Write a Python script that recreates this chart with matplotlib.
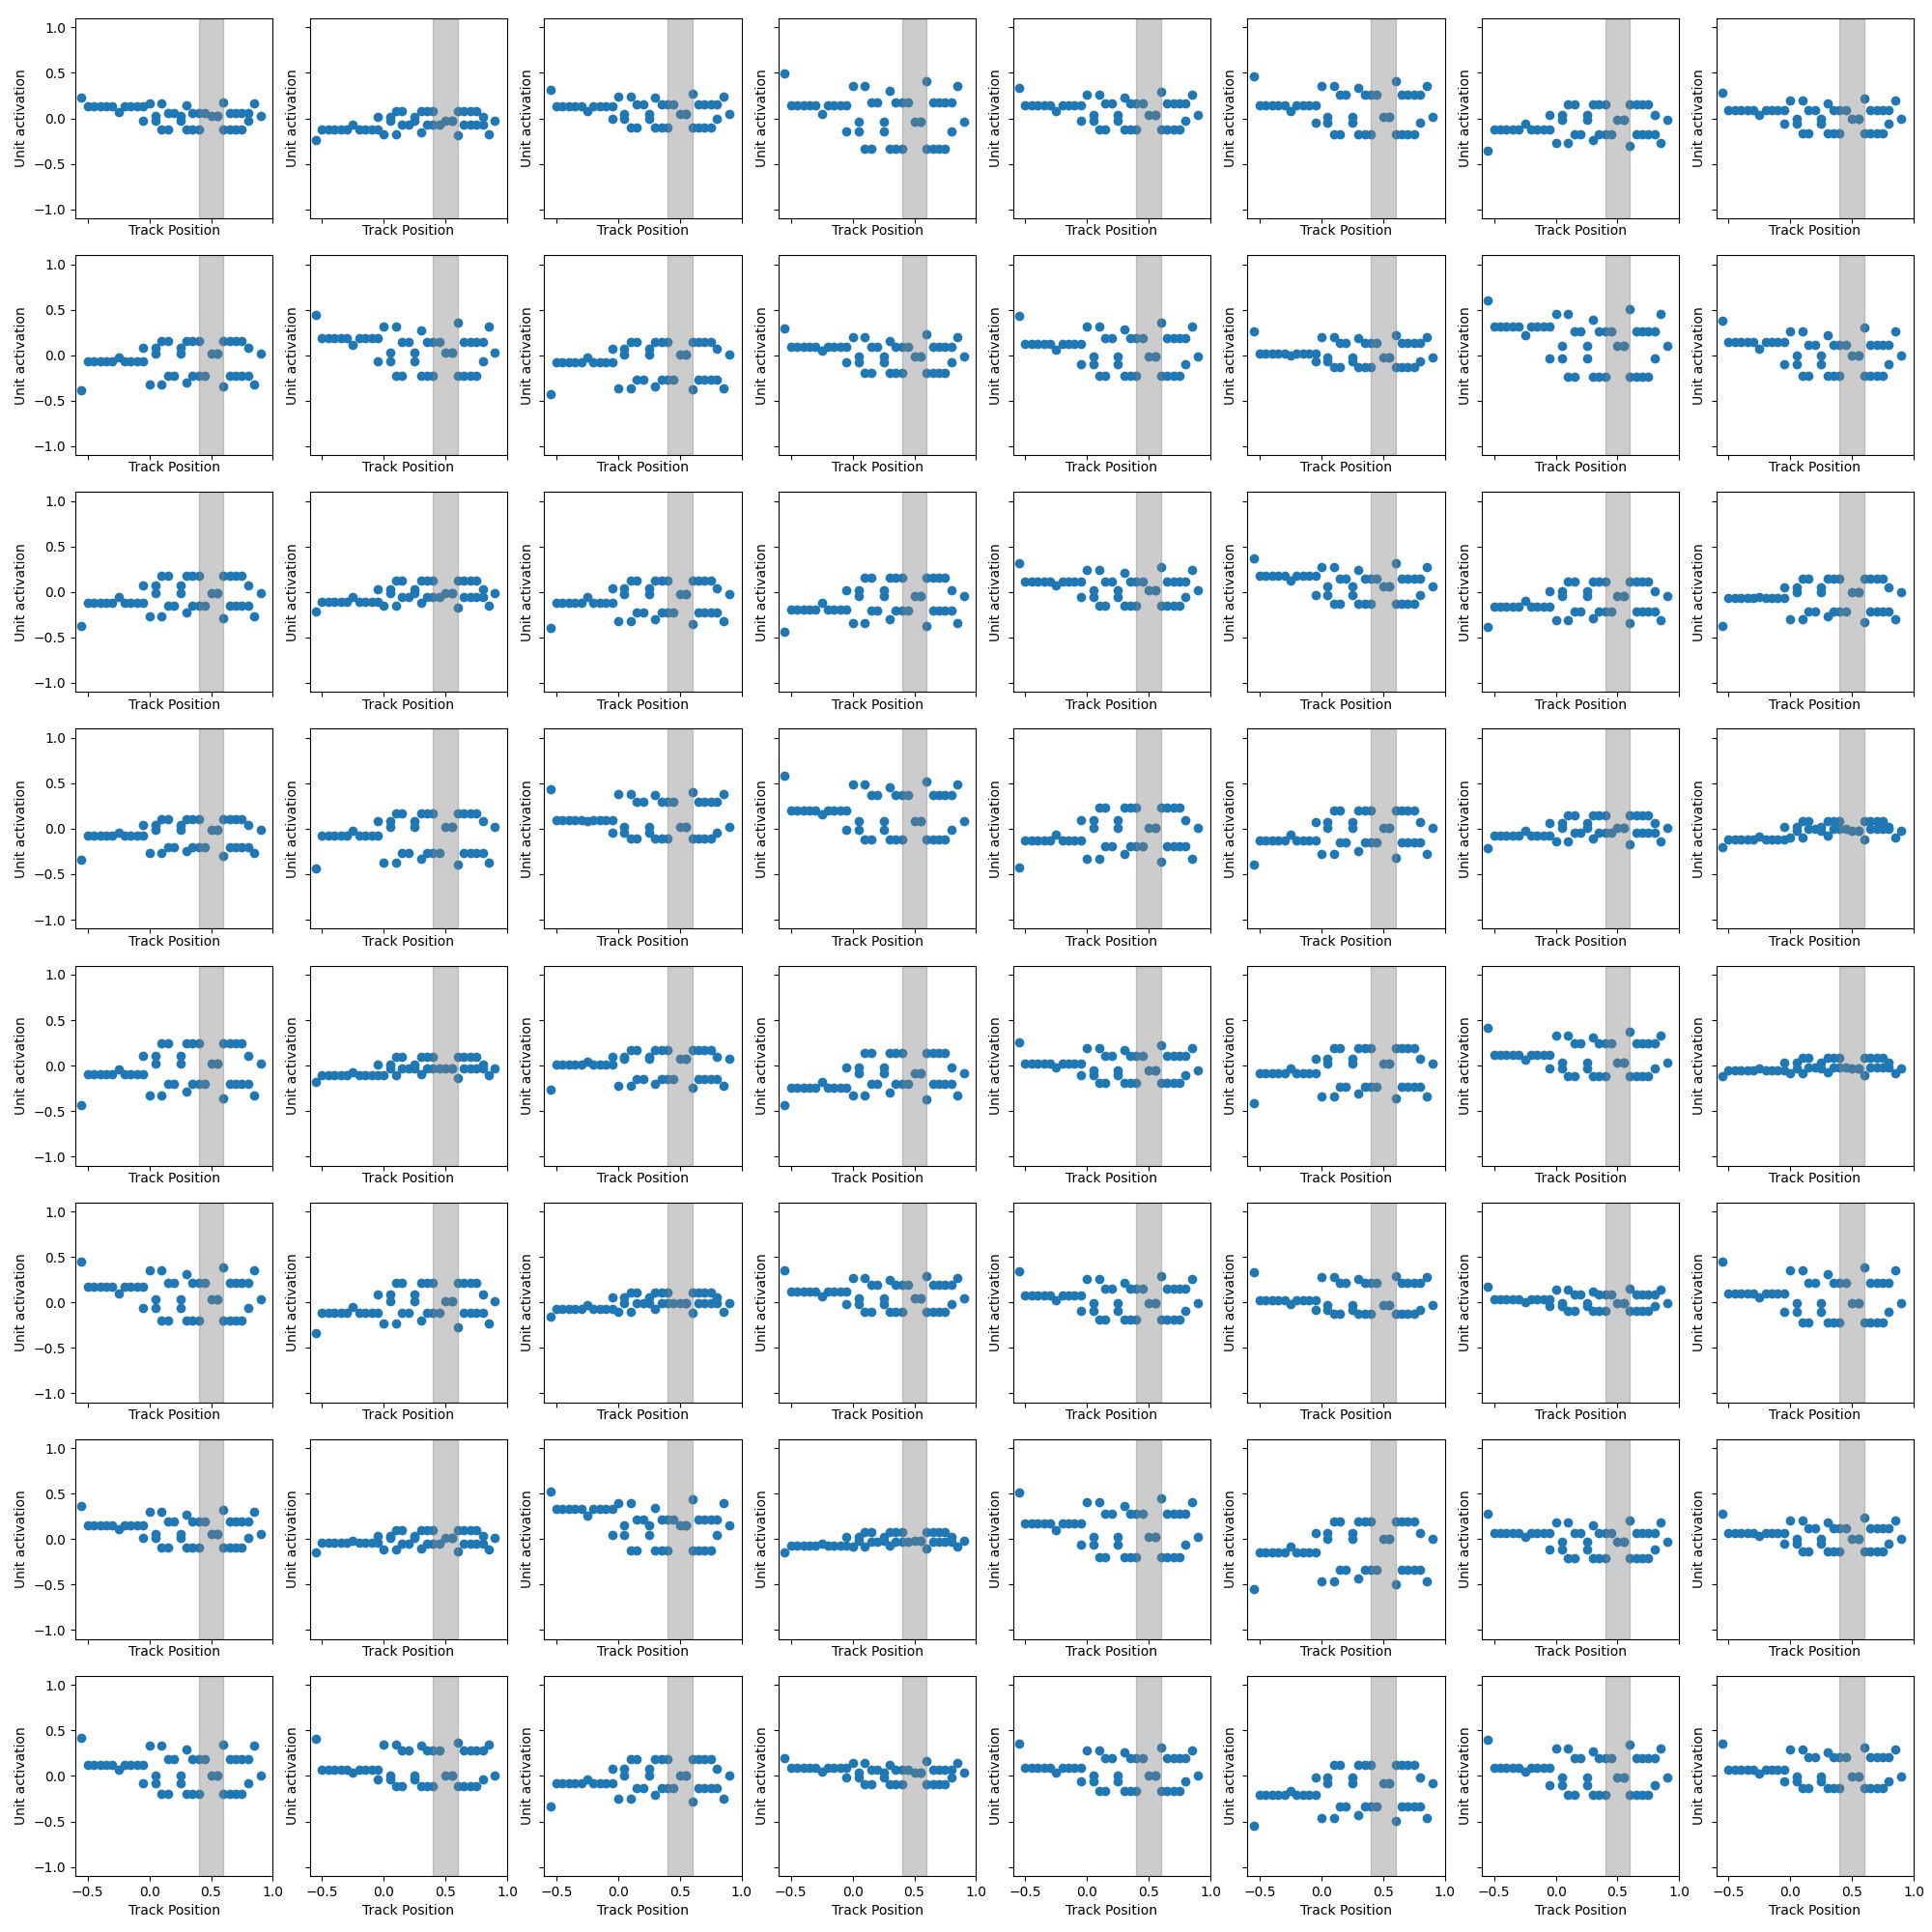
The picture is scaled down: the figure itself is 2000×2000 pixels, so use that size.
import matplotlib
matplotlib.use("Agg")
import matplotlib.pyplot as plt

# Track positions of the samples (shared by every unit)
track_pos = [-0.55, -0.5, -0.45, -0.4, -0.35, -0.3, -0.25, -0.2, -0.15, -0.1,
             -0.05, -0.05, 0.0, 0.05, 0.05, 0.1, 0.1, 0.15, 0.15, 0.2,
             0.25, 0.25, 0.3, 0.3, 0.35, 0.35, 0.4, 0.4, 0.45, 0.5,
             0.55, 0.55, 0.6, 0.6, 0.65, 0.65, 0.7, 0.7, 0.75, 0.75,
             0.8, 0.8, 0.85, 0.9]

# which activation level each sample takes
level_of = ["start", "flat", "flat", "flat", "flat", "flat", "dip", "flat", "flat", "flat",
            "flat", "mid2", "high", "mid1", "mid2", "high", "lower", "upper", "lower", "upper",
            "mid1", "mid2", "high30", "lower", "upper", "lower", "upper", "lower", "upper", "mid1",
            "mid1", "mid1", "peak", "lower", "upper", "lower", "upper", "lower", "upper", "lower",
            "upper", "mid2", "high", "mid1"]

# activation levels per unit (8 x 8 grid, row by row)
start = [
    [0.23, -0.24, 0.31, 0.49, 0.34, 0.46, -0.36, 0.28],
    [-0.39, 0.44, -0.43, 0.29, 0.43, 0.26, 0.60, 0.38],
    [-0.37, -0.22, -0.40, -0.44, 0.32, 0.37, -0.39, -0.37],
    [-0.34, -0.44, 0.44, 0.58, -0.43, -0.39, -0.21, -0.20],
    [-0.43, -0.18, -0.27, -0.44, 0.255, -0.41, 0.41, -0.12],
    [0.45, -0.34, -0.16, 0.35, 0.34, 0.33, 0.17, 0.45],
    [0.37, -0.15, 0.52, -0.15, 0.51, -0.55, 0.28, 0.28],
    [0.42, 0.41, -0.33, 0.195, 0.355, -0.55, 0.40, 0.355],
]
flat = [
    [0.13, -0.12, 0.13, 0.14, 0.14, 0.14, -0.12, 0.09],
    [-0.07, 0.19, -0.08, 0.09, 0.12, 0.02, 0.31, 0.14],
    [-0.12, -0.11, -0.12, -0.19, 0.12, 0.18, -0.16, -0.07],
    [-0.08, -0.07, 0.10, 0.20, -0.13, -0.13, -0.08, -0.12],
    [-0.10, -0.11, 0.01, -0.24, 0.02, -0.08, 0.12, -0.05],
    [0.17, -0.11, -0.07, 0.12, 0.08, 0.02, 0.03, 0.10],
    [0.15, -0.035, 0.33, -0.07, 0.17, -0.15, 0.07, 0.07],
    [0.12, 0.07, -0.08, 0.09, 0.09, -0.21, 0.095, 0.07],
]
dip = [
    [0.07, -0.07, 0.08, 0.05, 0.085, 0.08, -0.06, 0.04],
    [-0.02, 0.11, -0.03, 0.05, 0.06, 0.00, 0.22, 0.07],
    [-0.06, -0.06, -0.06, -0.12, 0.07, 0.13, -0.10, -0.05],
    [-0.04, -0.025, 0.08, 0.16, -0.06, -0.06, -0.025, -0.09],
    [-0.04, -0.07, 0.04, -0.18, -0.02, -0.035, 0.06, -0.035],
    [0.10, -0.05, -0.035, 0.07, 0.025, -0.02, 0.00, 0.05],
    [0.105, -0.02, 0.255, -0.05, 0.10, -0.08, 0.025, 0.04],
    [0.07, 0.035, -0.035, 0.05, 0.035, -0.16, 0.045, 0.03],
]
high = [
    [0.16, -0.17, 0.24, 0.36, 0.26, 0.36, -0.27, 0.20],
    [-0.32, 0.31, -0.36, 0.20, 0.32, 0.20, 0.45, 0.26],
    [-0.27, -0.15, -0.32, -0.34, 0.24, 0.27, -0.31, -0.30],
    [-0.27, -0.37, 0.38, 0.49, -0.33, -0.28, -0.14, -0.10],
    [-0.33, -0.11, -0.22, -0.33, 0.19, -0.34, 0.33, -0.08],
    [0.35, -0.23, -0.10, 0.27, 0.26, 0.28, 0.14, 0.35],
    [0.30, -0.11, 0.40, -0.08, 0.41, -0.46, 0.18, 0.21],
    [0.33, 0.35, -0.25, 0.14, 0.28, -0.46, 0.30, 0.29],
]
high30 = [
    [0.14, -0.15, 0.23, 0.30, 0.23, 0.34, -0.24, 0.16],
    [-0.30, 0.27, -0.34, 0.16, 0.28, 0.19, 0.39, 0.22],
    [-0.23, -0.12, -0.30, -0.30, 0.21, 0.24, -0.29, -0.27],
    [-0.25, -0.33, 0.37, 0.46, -0.28, -0.24, -0.11, -0.08],
    [-0.29, -0.10, -0.20, -0.30, 0.17, -0.31, 0.31, -0.07],
    [0.31, -0.20, -0.07, 0.25, 0.22, 0.255, 0.12, 0.31],
    [0.27, -0.10, 0.34, -0.07, 0.37, -0.43, 0.15, 0.18],
    [0.29, 0.33, -0.21, 0.125, 0.26, -0.43, 0.27, 0.265],
]
peak = [
    [0.18, -0.19, 0.27, 0.41, 0.29, 0.41, -0.30, 0.22],
    [-0.34, 0.36, -0.38, 0.23, 0.36, 0.22, 0.51, 0.30],
    [-0.29, -0.17, -0.35, -0.37, 0.27, 0.32, -0.34, -0.33],
    [-0.30, -0.39, 0.40, 0.52, -0.36, -0.32, -0.17, -0.12],
    [-0.36, -0.14, -0.24, -0.37, 0.22, -0.36, 0.37, -0.11],
    [0.39, -0.27, -0.12, 0.29, 0.29, 0.29, 0.15, 0.38],
    [0.32, -0.13, 0.44, -0.10, 0.45, -0.50, 0.21, 0.24],
    [0.35, 0.365, -0.28, 0.16, 0.31, -0.49, 0.34, 0.31],
]
upper = [
    [0.06, -0.07, 0.15, 0.18, 0.16, 0.26, -0.17, 0.09],
    [-0.23, 0.15, -0.27, 0.09, 0.19, 0.13, 0.26, 0.11],
    [-0.15, -0.05, -0.23, -0.20, 0.12, 0.15, -0.21, -0.21],
    [-0.20, -0.27, 0.30, 0.37, -0.19, -0.15, -0.04, 0.00],
    [-0.20, -0.03, -0.15, -0.20, 0.11, -0.23, 0.25, -0.02],
    [0.21, -0.11, -0.01, 0.19, 0.15, 0.21, 0.09, 0.22],
    [0.20, -0.05, 0.22, -0.03, 0.28, -0.34, 0.07, 0.12],
    [0.19, 0.28, -0.135, 0.07, 0.195, -0.34, 0.195, 0.21],
]
lower = [
    [-0.12, 0.085, -0.10, -0.33, -0.12, -0.17, 0.15, -0.16],
    [0.16, -0.23, 0.15, -0.19, -0.23, -0.13, -0.24, -0.23],
    [0.18, 0.13, 0.13, 0.16, -0.15, -0.13, 0.12, 0.15],
    [0.11, 0.17, -0.11, -0.12, 0.23, 0.20, 0.145, 0.08],
    [0.25, 0.10, 0.17, 0.14, -0.19, 0.195, -0.12, 0.09],
    [-0.20, 0.21, 0.11, -0.10, -0.19, -0.13, -0.09, -0.22],
    [-0.09, 0.095, -0.12, 0.08, -0.20, 0.20, -0.21, -0.13],
    [-0.20, -0.11, 0.185, -0.09, -0.16, 0.125, -0.21, -0.13],
]
mid1 = [
    [0.03, -0.03, 0.05, -0.04, 0.04, 0.02, -0.02, 0.00],
    [0.02, 0.03, 0.01, -0.01, -0.01, -0.03, 0.10, 0.00],
    [-0.01, -0.01, -0.02, -0.04, 0.02, 0.06, -0.04, 0.00],
    [-0.01, 0.02, 0.02, 0.08, 0.01, 0.01, 0.01, -0.02],
    [0.02, -0.03, 0.07, -0.08, -0.05, 0.02, 0.03, -0.03],
    [0.03, 0.01, -0.01, 0.04, -0.01, -0.03, -0.01, -0.01],
    [0.06, 0.01, 0.15, -0.02, 0.03, 0.00, -0.03, 0.00],
    [0.00, 0.01, 0.01, 0.04, 0.00, -0.08, -0.02, -0.01],
]
mid2 = [
    [-0.03, 0.02, -0.01, -0.14, -0.03, -0.05, 0.04, -0.06],
    [0.08, -0.07, 0.07, -0.08, -0.10, -0.07, -0.04, -0.10],
    [0.07, 0.03, 0.04, 0.02, -0.05, -0.03, 0.01, 0.05],
    [0.04, 0.08, -0.04, -0.01, 0.09, 0.07, 0.06, 0.02],
    [0.11, 0.01, 0.10, -0.02, -0.11, 0.08, -0.03, 0.03],
    [-0.06, 0.09, 0.05, -0.02, -0.09, -0.08, -0.04, -0.10],
    [0.01, 0.04, 0.05, 0.03, -0.06, 0.07, -0.11, -0.05],
    [-0.08, -0.04, 0.08, -0.02, -0.06, -0.02, -0.10, -0.06],
]

levels = {"start": start, "flat": flat, "dip": dip, "high": high, "high30": high30,
          "peak": peak, "upper": upper, "lower": lower, "mid1": mid1, "mid2": mid2}

fig, axes = plt.subplots(8, 8, sharex=True, sharey=True, figsize=(20, 20), dpi=100)
fig.subplots_adjust(left=0.039, right=0.9905, top=0.9905, bottom=0.029,
                    wspace=0.187, hspace=0.184)

for r in range(8):
    for c in range(8):
        ax = axes[r, c]
        y = [levels[k][r][c] for k in level_of]
        ax.scatter(track_pos, y)
        # reward zone
        ax.axvspan(0.4, 0.6, color="gray", alpha=0.4)
        ax.set_xlim(-0.6, 1.0)
        ax.set_ylim(-1.1, 1.1)
        ax.set_xticks([-0.5, 0.0, 0.5, 1.0])
        ax.set_yticks([-1.0, -0.5, 0.0, 0.5, 1.0])
        # inner rows have no tick labels, so the label sits right under the ticks
        ax.set_xlabel("Track Position", labelpad=4 if r == 7 else 1)
        ax.set_ylabel("Unit activation")

fig.savefig("out.png")
